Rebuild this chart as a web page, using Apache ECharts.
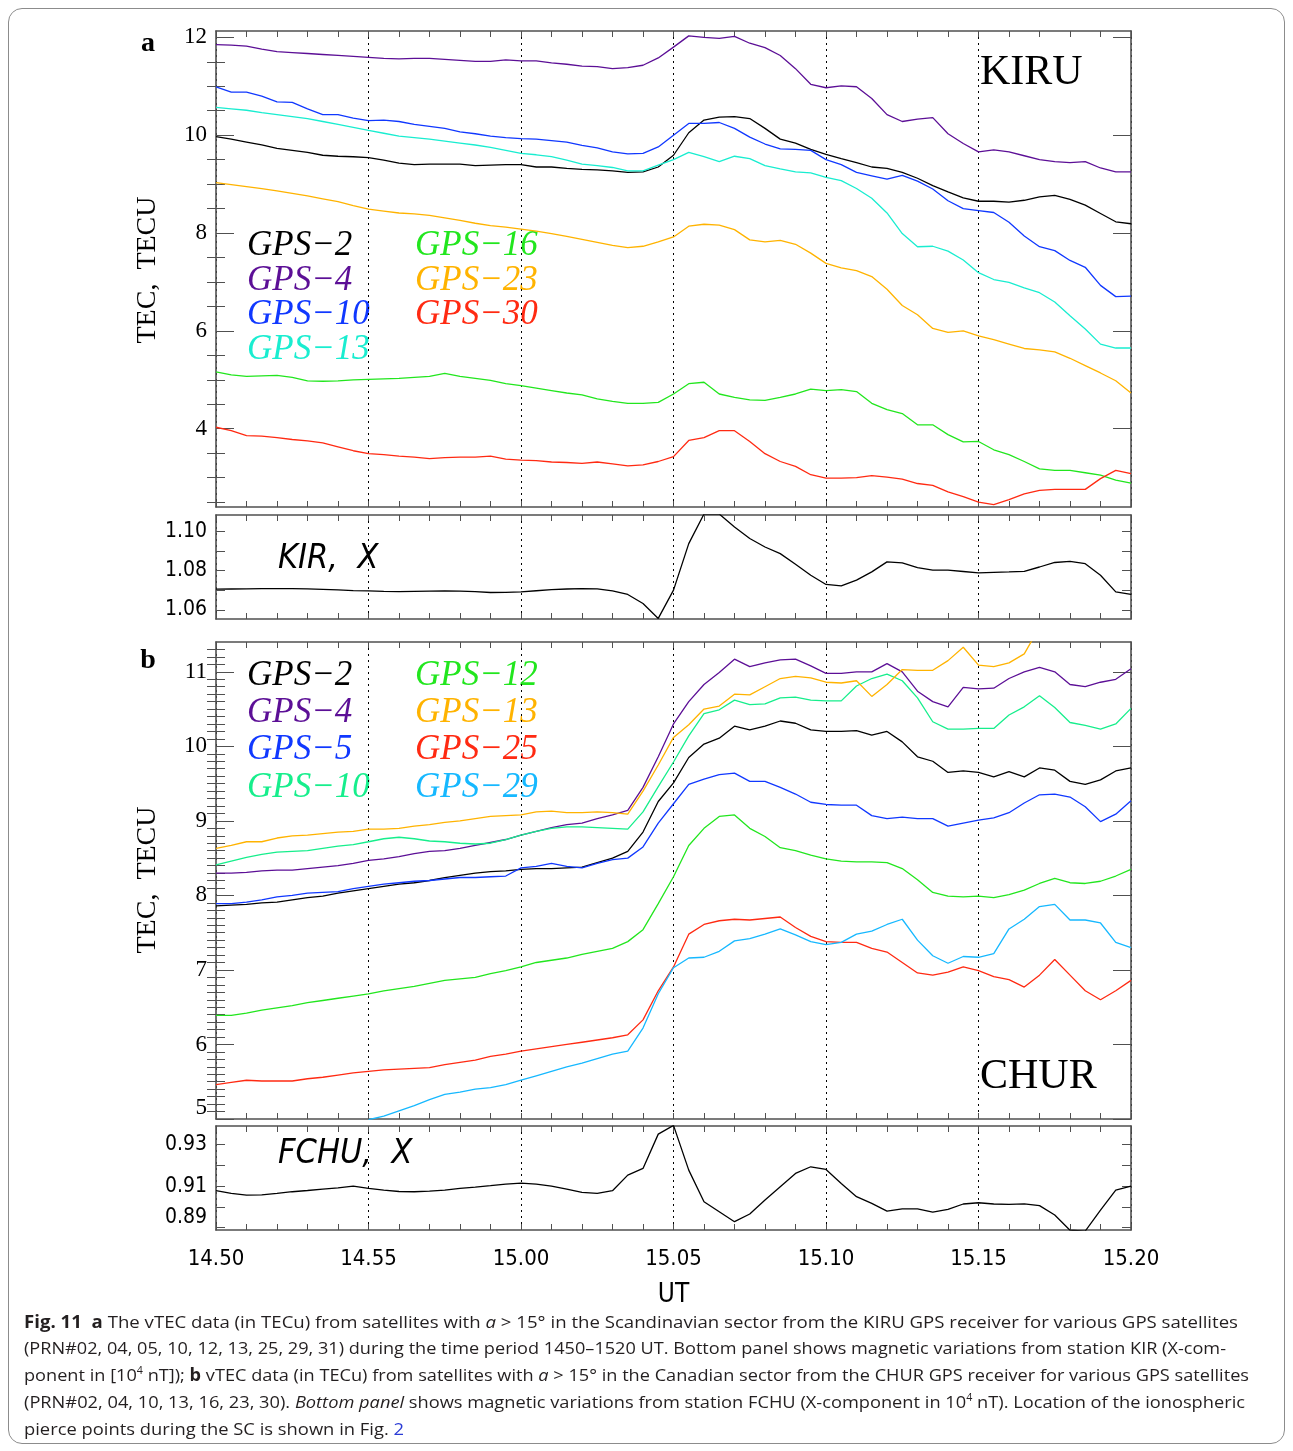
<!DOCTYPE html>
<html><head><meta charset="utf-8">
<script src="https://cdn.jsdelivr.net/npm/echarts@6/dist/echarts.min.js"></script>
<style>
html,body{margin:0;padding:0;background:#fff;}
#chart{position:absolute;left:0;top:0;width:1293px;height:1451px;}
#frame{position:absolute;left:8px;top:8px;width:1277px;height:1436px;border:1px solid #8c8c8c;border-radius:14px;box-sizing:border-box;pointer-events:none;}
#cap{position:absolute;left:24px;top:0;font-family:'Open Sans','Noto Sans',sans-serif;font-size:17px;color:#231f20;}
.ln{position:absolute;left:0;white-space:nowrap;transform-origin:0 50%;line-height:22px;}
.ln sup{font-size:10px;vertical-align:7px;line-height:0;}
</style></head>
<body>
<div id="chart"></div>
<div id="frame"></div>
<div id="cap"></div>
<script>
// ---------------- data ----------------
const minutes = [0,0.5,1,1.5,2,2.5,3,3.5,4,4.5,5,5.5,6,6.5,7,7.5,8,8.5,9,9.5,10,10.5,11,11.5,12,12.5,13,13.5,14,14.5,15,15.5,16,16.5,17,17.5,18,18.5,19,19.5,20,20.5,21,21.5,22,22.5,23,23.5,24,24.5,25,25.5,26,26.5,27,27.5,28,28.5,29,29.5,30];
const timeTickLabels = ['14.50','14.55','15.00','15.05','15.10','15.15','15.20'];

// panel a : KIRU
const kiruNames = ['GPS\u22122','GPS\u22124','GPS\u221210','GPS\u221213','GPS\u221216','GPS\u221223','GPS\u221230'];
const kiruColors = ['#000000','#5c0f96','#1038ff','#19edd0','#22e61e','#ffb300','#ff2a12'];
const kiru_gps2 = [9.97,9.92,9.86,9.80,9.73,9.69,9.65,9.59,9.57,9.56,9.54,9.49,9.43,9.40,9.41,9.41,9.41,9.38,9.39,9.40,9.40,9.35,9.35,9.32,9.30,9.29,9.27,9.24,9.25,9.35,9.59,10.05,10.31,10.37,10.38,10.34,10.14,9.92,9.84,9.71,9.61,9.52,9.44,9.35,9.32,9.24,9.12,8.97,8.84,8.72,8.65,8.65,8.63,8.67,8.74,8.77,8.69,8.57,8.40,8.23,8.19];
const kiru_gps4 = [11.85,11.84,11.82,11.76,11.71,11.69,11.67,11.65,11.63,11.61,11.59,11.57,11.56,11.57,11.57,11.55,11.53,11.51,11.51,11.54,11.52,11.52,11.48,11.45,11.41,11.40,11.36,11.38,11.43,11.58,11.80,12.03,12.00,11.98,12.02,11.88,11.79,11.63,11.36,11.04,10.97,11.01,10.99,10.75,10.42,10.28,10.33,10.36,10.03,9.83,9.66,9.70,9.66,9.58,9.50,9.46,9.44,9.46,9.33,9.25,9.25];
const kiru_gps10 = [10.99,10.88,10.88,10.80,10.68,10.67,10.54,10.42,10.42,10.35,10.30,10.31,10.28,10.22,10.18,10.14,10.07,10.03,9.98,9.95,9.93,9.92,9.89,9.86,9.79,9.74,9.66,9.62,9.63,9.76,10.00,10.24,10.24,10.26,10.14,9.96,9.82,9.72,9.71,9.69,9.50,9.40,9.24,9.17,9.10,9.18,9.06,8.90,8.66,8.50,8.46,8.42,8.22,7.94,7.72,7.64,7.44,7.30,6.93,6.70,6.71];
const kiru_gps13 = [10.57,10.54,10.51,10.46,10.42,10.38,10.34,10.28,10.22,10.16,10.10,10.04,9.98,9.95,9.92,9.88,9.84,9.80,9.75,9.69,9.63,9.60,9.56,9.49,9.41,9.38,9.34,9.27,9.27,9.39,9.50,9.65,9.56,9.46,9.57,9.52,9.38,9.31,9.25,9.23,9.14,9.07,8.91,8.71,8.41,7.99,7.72,7.73,7.63,7.45,7.19,7.05,6.99,6.88,6.78,6.59,6.31,6.04,5.73,5.65,5.65];
const kiru_gps16 = [5.16,5.10,5.07,5.08,5.09,5.05,4.98,4.97,4.98,5.00,5.01,5.02,5.03,5.05,5.07,5.13,5.07,5.03,4.99,4.92,4.88,4.83,4.78,4.73,4.69,4.61,4.56,4.52,4.52,4.54,4.71,4.92,4.95,4.71,4.64,4.59,4.58,4.64,4.71,4.81,4.78,4.80,4.76,4.52,4.39,4.31,4.08,4.08,3.88,3.73,3.74,3.57,3.47,3.33,3.18,3.15,3.15,3.10,3.05,2.95,2.89];
const kiru_gps23 = [9.03,8.99,8.95,8.91,8.86,8.81,8.76,8.70,8.64,8.56,8.49,8.45,8.41,8.39,8.36,8.31,8.26,8.20,8.15,8.12,8.08,8.04,7.99,7.93,7.87,7.81,7.75,7.70,7.73,7.82,7.92,8.14,8.18,8.16,8.07,7.86,7.82,7.85,7.77,7.59,7.38,7.29,7.23,7.11,6.85,6.52,6.33,6.05,5.97,6.00,5.90,5.82,5.73,5.64,5.61,5.57,5.44,5.29,5.14,4.98,4.73];
const kiru_gps30 = [4.03,3.96,3.86,3.85,3.82,3.78,3.75,3.71,3.63,3.55,3.49,3.47,3.44,3.42,3.39,3.41,3.42,3.42,3.44,3.38,3.36,3.35,3.32,3.31,3.29,3.32,3.28,3.24,3.26,3.33,3.43,3.76,3.82,3.96,3.96,3.74,3.49,3.33,3.23,3.06,2.99,2.99,3.00,3.04,3.01,2.97,2.88,2.84,2.71,2.61,2.50,2.45,2.55,2.67,2.74,2.76,2.76,2.76,2.98,3.15,3.08];

// KIR magnetometer, X component [10^4 nT]
const kirX = [1.0705,1.0706,1.0707,1.0708,1.0708,1.0708,1.0707,1.0704,1.0701,1.0698,1.0696,1.0694,1.0693,1.0694,1.0695,1.0696,1.0695,1.0692,1.0688,1.0689,1.0691,1.0697,1.0703,1.0706,1.0708,1.0707,1.0696,1.0678,1.0632,1.0556,1.0700,1.0937,1.1088,1.1088,1.1022,1.0963,1.0920,1.0886,1.0832,1.0776,1.0729,1.0722,1.0751,1.0793,1.0844,1.0839,1.0815,1.0802,1.0802,1.0795,1.0788,1.0791,1.0793,1.0796,1.0818,1.0841,1.0847,1.0835,1.0776,1.0691,1.0678];

// panel b : CHUR
const churNames = ['GPS\u22122','GPS\u22124','GPS\u22125','GPS\u221210','GPS\u221212','GPS\u221213','GPS\u221225','GPS\u221229'];
const churColors = ['#000000','#5c0f96','#1038ff','#16ee8c','#22e61e','#ffb300','#ff2a12','#16b8ff'];
const chur_gps2 = [7.86,7.87,7.88,7.90,7.91,7.94,7.97,7.99,8.03,8.06,8.09,8.12,8.15,8.17,8.20,8.24,8.27,8.30,8.32,8.33,8.35,8.36,8.36,8.37,8.38,8.44,8.50,8.59,8.85,9.26,9.51,9.85,10.03,10.11,10.27,10.22,10.27,10.34,10.31,10.22,10.20,10.20,10.21,10.15,10.20,10.06,9.86,9.80,9.65,9.67,9.65,9.59,9.66,9.59,9.71,9.68,9.53,9.49,9.55,9.67,9.71];
const chur_gps4 = [8.30,8.30,8.31,8.33,8.34,8.34,8.36,8.38,8.40,8.43,8.47,8.49,8.52,8.56,8.59,8.60,8.63,8.67,8.71,8.75,8.81,8.86,8.91,8.95,8.97,9.03,9.08,9.14,9.45,9.86,10.30,10.60,10.83,10.99,11.17,11.07,11.12,11.16,11.17,11.08,10.98,10.98,11.00,11.00,11.11,11.00,10.74,10.60,10.53,10.79,10.77,10.78,10.91,11.00,11.06,11.00,10.83,10.80,10.86,10.90,11.04];
const chur_gps5 = [7.89,7.89,7.91,7.94,7.98,8.00,8.03,8.04,8.05,8.09,8.12,8.15,8.17,8.19,8.20,8.22,8.24,8.24,8.25,8.26,8.37,8.39,8.43,8.39,8.37,8.43,8.48,8.50,8.65,8.97,9.23,9.49,9.56,9.62,9.64,9.53,9.53,9.45,9.36,9.25,9.22,9.21,9.21,9.07,9.03,9.05,9.03,9.03,8.93,8.97,9.01,9.04,9.11,9.24,9.35,9.36,9.32,9.19,8.99,9.09,9.27];
const chur_gps10 = [8.41,8.46,8.51,8.55,8.58,8.59,8.60,8.63,8.66,8.68,8.72,8.76,8.78,8.76,8.73,8.72,8.70,8.69,8.70,8.75,8.81,8.86,8.90,8.92,8.92,8.91,8.90,8.89,9.12,9.46,9.79,10.14,10.44,10.49,10.62,10.56,10.57,10.65,10.66,10.62,10.61,10.61,10.81,10.91,10.97,10.88,10.65,10.33,10.23,10.23,10.24,10.24,10.42,10.53,10.68,10.52,10.32,10.28,10.23,10.30,10.51];
const chur_gps12 = [6.39,6.39,6.42,6.46,6.49,6.52,6.56,6.59,6.62,6.65,6.68,6.72,6.75,6.78,6.82,6.86,6.88,6.90,6.95,6.99,7.04,7.10,7.13,7.16,7.21,7.25,7.29,7.38,7.54,7.89,8.25,8.67,8.90,9.06,9.08,8.90,8.79,8.64,8.60,8.54,8.49,8.46,8.45,8.45,8.44,8.36,8.21,8.04,7.99,7.98,7.99,7.97,8.01,8.07,8.16,8.23,8.17,8.16,8.19,8.26,8.35];
const chur_gps13 = [8.63,8.67,8.72,8.72,8.77,8.80,8.81,8.83,8.85,8.86,8.89,8.89,8.90,8.93,8.95,8.98,9.00,9.03,9.06,9.07,9.08,9.12,9.13,9.11,9.11,9.12,9.11,9.09,9.40,9.75,10.12,10.29,10.50,10.54,10.70,10.69,10.80,10.91,10.94,10.92,10.86,10.85,10.88,10.67,10.83,11.03,11.02,11.02,11.15,11.33,11.09,11.07,11.12,11.24,11.60,null,null,null,null,null,null];
const chur_gps25 = [5.46,5.49,5.52,5.51,5.51,5.51,5.54,5.56,5.59,5.62,5.64,5.66,5.67,5.68,5.69,5.73,5.76,5.79,5.84,5.87,5.91,5.94,5.97,6.00,6.03,6.06,6.09,6.13,6.33,6.72,7.04,7.48,7.61,7.66,7.68,7.67,7.69,7.71,7.57,7.45,7.38,7.37,7.37,7.29,7.24,7.10,6.96,6.93,6.97,7.04,6.99,6.91,6.87,6.77,6.93,7.14,6.93,6.72,6.60,6.72,6.86];
const chur_gps29 = [null,null,null,null,null,null,null,null,null,null,4.99,5.04,5.11,5.18,5.26,5.33,5.36,5.40,5.42,5.46,5.52,5.58,5.64,5.70,5.75,5.81,5.87,5.91,6.22,6.68,7.03,7.16,7.17,7.25,7.39,7.42,7.48,7.55,7.47,7.38,7.34,7.37,7.48,7.52,7.61,7.68,7.40,7.19,7.09,7.18,7.17,7.22,7.55,7.68,7.85,7.88,7.67,7.67,7.63,7.37,7.30];

// FCHU magnetometer, X component [10^4 nT]
const fchuX = [0.9078,0.9065,0.9057,0.9058,0.9065,0.9073,0.9079,0.9086,0.9092,0.9100,0.9089,0.9081,0.9074,0.9073,0.9076,0.9081,0.9089,0.9095,0.9102,0.9110,0.9114,0.9110,0.9100,0.9086,0.9070,0.9065,0.9078,0.9153,0.9185,0.9350,0.9392,0.9177,0.9025,0.8977,0.8929,0.8966,0.9033,0.9097,0.9161,0.9193,0.9180,0.9113,0.9049,0.9017,0.8980,0.8991,0.8991,0.8975,0.8988,0.9014,0.9020,0.9014,0.9012,0.9015,0.9006,0.8961,0.8888,0.8884,0.8985,0.9081,0.9100];

// axis tick values
const tecTicksA = [4,6,8,10,12];
const tecMinorA = [2.5,3,3.5,4.5,5,5.5,6.5,7,7.5,8.5,9,9.5,10.5,11,11.5];
const kirTicks = [1.06,1.07,1.08,1.09,1.10];
const kirLabels = [1.06,1.08,1.10];
const tecTicksB = [5,6,7,8,9,10,11];
const tecMinorB = [5.1,5.2,5.3,5.4,5.5,5.6,5.7,5.8,5.9,6.1,6.2,6.3,6.4,6.5,6.6,6.7,6.8,6.9,7.1,7.2,7.3,7.4,7.5,7.6,7.7,7.8,7.9,8.1,8.2,8.3,8.4,8.5,8.6,8.7,8.8,8.9,9.1,9.2,9.3,9.4,9.5,9.6,9.7,9.8,9.9,10.1,10.2,10.3,10.4,10.5,10.6,10.7,10.8,10.9,11.1,11.2,11.3];
const fchuTicks = [0.89,0.90,0.91,0.92,0.93];
const fchuLabels = [0.89,0.91,0.93];

// ---------------- chart ----------------
const FRAME = '#505050';
const SERIF = '"Liberation Serif","Times New Roman",serif';
const NARROW = '"Liberation Sans Narrow","DejaVu Sans Condensed","Liberation Sans",sans-serif';

const grids = [
  {left:216, top:31, width:915, height:476},
  {left:216, top:515, width:915, height:104},
  {left:216, top:642, width:915, height:477},
  {left:216, top:1126, width:915, height:104}
];
const yCfg = [
  {min:2.4, max:12.13, major:tecTicksA, minor:tecMinorA, labels:tecTicksA, majLen:18, minLen:9, size:23, fam:SERIF, dec:0},
  {min:1.0553, max:1.1083, major:kirTicks, minor:[], labels:kirLabels, majLen:9, minLen:9, size:21, fam:NARROW, dec:2},
  {min:5, max:11.4, major:tecTicksB, minor:tecMinorB, labels:tecTicksB, majLen:18, minLen:9, size:23, fam:SERIF, dec:0, bottomMin:true},
  {min:0.8889, max:0.9389, major:fchuTicks, minor:[], labels:fchuLabels, majLen:9, minLen:9, size:21, fam:NARROW, dec:2, bottomMin:true}
];

const xAxes = [], yAxes = [];
const xIdx = [], yIdx = [];
grids.forEach((g, gi) => {
  ['bottom','top'].forEach(pos => {
    if (pos === 'bottom') xIdx[gi] = xAxes.length;
    const isLast = gi === 3 && pos === 'bottom';
    xAxes.push({
      type:'value', gridIndex:gi, position:pos, min:0, max:30, interval:5,
      axisLine:{show:true, onZero:false, lineStyle:{color:FRAME, width:1.6}},
      axisTick:{show:true, inside:true, length:6, lineStyle:{color:FRAME, width:1}},
      minorTick:{show:true, splitNumber:5, length:6, lineStyle:{color:FRAME, width:1}},
      splitLine:{show:pos==='bottom', lineStyle:{type:[2,4], color:'#000', width:1}},
      axisLabel:{show:isLast, margin:18, fontSize:22, fontFamily:NARROW, color:'#000',
        formatter:v => timeTickLabels[Math.round(v/5)]},
      name: isLast ? 'UT' : '', nameLocation:'middle', nameGap:52,
      nameTextStyle:{fontSize:26, fontFamily:NARROW, color:'#000'}
    });
  });
  const c = yCfg[gi];
  ['left','right'].forEach(pos => {
    if (pos === 'left') yIdx[gi] = yAxes.length;
    yAxes.push({
      type:'value', gridIndex:gi, position:pos, min:c.min, max:c.max, scale:true,
      axisLine:{show:true, onZero:false, lineStyle:{color:FRAME, width:1.6}},
      axisTick:{show:true, inside:true, length:c.majLen, customValues:c.major, lineStyle:{color:FRAME, width:1}},
      splitLine:{show:false},
      axisLabel:{show:pos==='left', customValues:c.labels, margin:9, color:'#000',
        fontSize:c.size, fontFamily:c.fam,
        verticalAlignMinLabel: c.bottomMin ? 'bottom' : null,
        formatter:v => v.toFixed(c.dec)}
    });
    if (c.minor.length) {
      yAxes.push({
        type:'value', gridIndex:gi, position:pos, min:c.min, max:c.max, scale:true,
        axisLine:{show:false},
        axisTick:{show:true, inside:true, length:c.minLen, customValues:c.minor, lineStyle:{color:FRAME, width:1}},
        splitLine:{show:false}, axisLabel:{show:false}
      });
    }
  });
});

const series = [];
function addLine(gi, name, color, vals) {
  series.push({
    type:'line', name, xAxisIndex:xIdx[gi], yAxisIndex:yIdx[gi],
    data: minutes.map((t, i) => [t, vals[i]]),
    showSymbol:false, symbol:'none', connectNulls:false, clip:true,
    lineStyle:{color, width:1.3}, itemStyle:{color}, silent:true
  });
}
const kiruData = [kiru_gps2,kiru_gps4,kiru_gps10,kiru_gps13,kiru_gps16,kiru_gps23,kiru_gps30];
kiruData.forEach((d,i) => addLine(0, kiruNames[i], kiruColors[i], d));
addLine(1, 'KIR X', '#000', kirX);
const churData = [chur_gps2,chur_gps4,chur_gps5,chur_gps10,chur_gps12,chur_gps13,chur_gps25,chur_gps29];
churData.forEach((d,i) => addLine(2, churNames[i], churColors[i], d));
addLine(3, 'FCHU X', '#000', fchuX);

// text elements
const graphics = [];
function txt(text, x, y, font, fill, align, extra) {
  graphics.push(Object.assign({type:'text', x, y, silent:true,
    style:{text, font, fill, align:align||'left', verticalAlign:'middle', textAlign:align||'left', textVerticalAlign:'middle'}}, extra||{}));
}
const legFont = 'italic 35px ' + SERIF;
// panel a legend: column 1 rows 0..3, column 2 rows 0..2
const kiruLegendOrder = [[0,1,2,3],[4,5,6]];
const rowsA = [246,281,315,350];
kiruLegendOrder.forEach((col, ci) => col.forEach((si, ri) =>
  txt(kiruNames[si], ci ? 415 : 247, rowsA[ri], legFont, kiruColors[si])));
const churLegendOrder = [[0,1,2,3],[4,5,6,7]];
const rowsB = [676,713,750,788];
churLegendOrder.forEach((col, ci) => col.forEach((si, ri) =>
  txt(churNames[si], ci ? 415 : 247, rowsB[ri], legFont, churColors[si])));

txt('a', 148, 44, 'bold 28px '+SERIF, '#000', 'center');
txt('b', 148, 661, 'bold 28px '+SERIF, '#000', 'center');
txt('TEC,  TECU', 148, 270, '28px '+SERIF, '#000', 'center', {rotation:Math.PI/2});
txt('TEC,  TECU', 148, 880, '28px '+SERIF, '#000', 'center', {rotation:Math.PI/2});
txt('KIRU', 980, 73, '42px '+SERIF, '#000', 'left');
txt('CHUR', 980, 1077, '42px '+SERIF, '#000', 'left');
txt('KIR,  X', 278, 559, 'italic 34px '+NARROW, '#000', 'left');
txt('FCHU,  X', 278, 1154, 'italic 34px '+NARROW, '#000', 'left');

const chart = echarts.init(document.getElementById('chart'), null, {renderer:'canvas'});
chart.setOption({
  animation:false,
  backgroundColor:'#fff',
  grid:grids,
  xAxis:xAxes,
  yAxis:yAxes,
  series,
  graphic:graphics
});

// ---------------- caption ----------------
const capLines = [
  {y:1322, w:1214, html:'<b>Fig. 11</b>&nbsp; <b>a</b> The vTEC data (in TECu) from satellites with <i>a</i> &gt; 15° in the Scandinavian sector from the KIRU GPS receiver for various GPS satellites'},
  {y:1348, w:1202, html:'(PRN#02, 04, 05, 10, 12, 13, 25, 29, 31) during the time period 1450–1520 UT. Bottom panel shows magnetic variations from station KIR (X-com-'},
  {y:1375, w:1225, html:'ponent in [10<sup>4</sup> nT]); <b>b</b> vTEC data (in TECu) from satellites with <i>a</i> &gt; 15° in the Canadian sector from the CHUR GPS receiver for various GPS satellites'},
  {y:1402, w:1221, html:'(PRN#02, 04, 10, 13, 16, 23, 30). <i>Bottom panel</i> shows magnetic variations from station FCHU (X-component in 10<sup>4</sup> nT). Location of the ionospheric'},
  {y:1429, w:380, html:'pierce points during the SC is shown in Fig. <span style="color:#2a3bd6">2</span>'}
];
const cap = document.getElementById('cap');
capLines.forEach(l => {
  const d = document.createElement('div');
  d.className = 'ln';
  d.style.top = (l.y - 11) + 'px';
  d.innerHTML = l.html;
  cap.appendChild(d);
  const w = d.getBoundingClientRect().width;
  d.style.transform = 'scaleX(' + (l.w / w) + ')';
});
</script>
</body></html>
